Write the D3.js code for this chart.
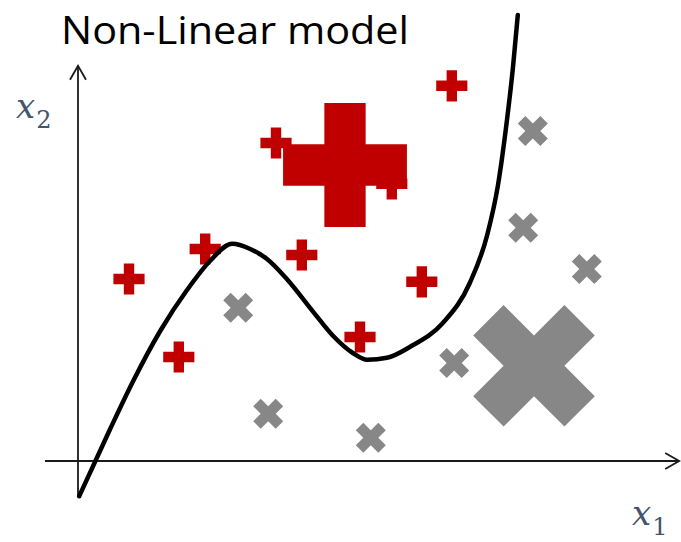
<!DOCTYPE html>
<html>
<head>
<meta charset="utf-8">
<script src="https://cdn.jsdelivr.net/npm/d3@7"></script>
<style>
  html, body { margin: 0; padding: 0; background: #fff; }
  svg { display: block; }
</style>
</head>
<body>
<div id="chart"></div>
<script>
// training samples (x1, x2)
const plusX1 = [0.85, 1.68, 2.12, 3.3, 3.73, 4.7, 5.23, 5.73, 6.23];
const plusX2 = [4.55, 2.6, 5.3, 7.95, 5.15, 3.1, 6.93, 4.48, 9.38];
const crossX1 = [2.67, 3.17, 4.88, 6.27, 7.42, 7.58, 8.48];
const crossX2 = [3.83, 1.18, 0.58, 2.45, 5.83, 8.25, 4.8];

// the two highlighted samples
const bigPlus = [4.45, 7.4];
const bigCross = [7.6, 2.38];

// decision boundary
const curveX1 = [0.02, 0.53, 0.92, 1.37, 1.82, 2.2, 2.57, 2.87, 3.15, 3.48, 3.92, 4.25,
                 4.58, 4.82, 5.15, 5.53, 6.08, 6.53, 6.82, 7.0, 7.15, 7.25, 7.33];
const curveX2 = [-0.88, 0.78, 2.0, 3.25, 4.28, 5.0, 5.43, 5.3, 5.05, 4.55, 3.73, 3.13,
                 2.7, 2.53, 2.58, 2.85, 3.45, 4.45, 5.65, 6.9, 8.53, 9.85, 11.15];

const title = "Non-Linear model";

const width = 681, height = 542;
const red = "#C00000", gray = "#878787", labelColor = "#44546A";

const svg = d3.select("#chart").append("svg")
    .attr("width", width)
    .attr("height", height);

const x = d3.scaleLinear().domain([0, 10]).range([78, 678]);
const y = d3.scaleLinear().domain([0, 10]).range([461, 61]);

// axes with open arrow heads
const axisG = svg.append("g")
    .attr("stroke", "#1a1a1a")
    .attr("stroke-width", 1.8)
    .attr("fill", "none");

axisG.append("line")
    .attr("x1", x(-0.55)).attr("y1", y(0))
    .attr("x2", x(10.02)).attr("y2", y(0));
axisG.append("path")
    .attr("d", `M${x(10.02) - 14},${y(0) - 8}L${x(10.02)},${y(0)}L${x(10.02) - 14},${y(0) + 8}`);

axisG.append("line")
    .attr("x1", x(0)).attr("y1", y(-0.9))
    .attr("x2", x(0)).attr("y2", y(9.88));
axisG.append("path")
    .attr("d", `M${x(0) - 8},${y(9.88) + 14}L${x(0)},${y(9.88)}L${x(0) + 8},${y(9.88) + 14}`);

// markers: d3 cross, rotated 45deg for the gray class
const smallR = 5.3, bigR = 21.5;
const sym = r => d3.symbol().type(d3.symbolCross).size(20 * r * r)();

const plusData = plusX1.map((d, i) => [d, plusX2[i]]);
const crossData = crossX1.map((d, i) => [d, crossX2[i]]);

svg.append("g").selectAll("path")
    .data(crossData)
    .join("path")
    .attr("d", sym(smallR))
    .attr("transform", d => `translate(${x(d[0])},${y(d[1])}) rotate(45)`)
    .attr("fill", gray);

svg.append("g").selectAll("path")
    .data(plusData)
    .join("path")
    .attr("d", sym(smallR * 0.98))
    .attr("transform", d => `translate(${x(d[0])},${y(d[1])})`)
    .attr("fill", red);

svg.append("path")
    .attr("d", sym(bigR * 0.96))
    .attr("transform", `translate(${x(bigPlus[0])},${y(bigPlus[1])})`)
    .attr("fill", red);

svg.append("path")
    .attr("d", sym(bigR))
    .attr("transform", `translate(${x(bigCross[0])},${y(bigCross[1])}) rotate(45)`)
    .attr("fill", gray);

// boundary curve
const line = d3.line()
    .x(d => x(d[0]))
    .y(d => y(d[1]))
    .curve(d3.curveMonotoneX);

svg.append("path")
    .datum(curveX1.map((d, i) => [d, curveX2[i]]))
    .attr("d", line)
    .attr("fill", "none")
    .attr("stroke", "#000")
    .attr("stroke-width", 4.5)
    .attr("stroke-linecap", "round")
    .attr("stroke-linejoin", "round");

// title
svg.append("text")
    .attr("x", 61)
    .attr("y", 44)
    .attr("font-family", "'Open Sans', 'Noto Sans', sans-serif")
    .attr("font-size", 39)
    .attr("fill", "#000")
    .attr("textLength", 348)
    .attr("lengthAdjust", "spacingAndGlyphs")
    .text(title);

// axis labels
function mathLabel(px, py, sub) {
    const t = svg.append("text")
        .attr("x", px)
        .attr("y", py)
        .attr("font-family", "'DejaVu Serif', 'Liberation Serif', serif")
        .attr("fill", labelColor);
    t.append("tspan")
        .attr("font-style", "italic")
        .attr("font-size", 34)
        .text("x");
    t.append("tspan")
        .attr("font-size", 24)
        .attr("dy", 10)
        .attr("dx", 1)
        .text(sub);
}
mathLabel(16, 118, "2");
mathLabel(632, 525, "1");
</script>
</body>
</html>
